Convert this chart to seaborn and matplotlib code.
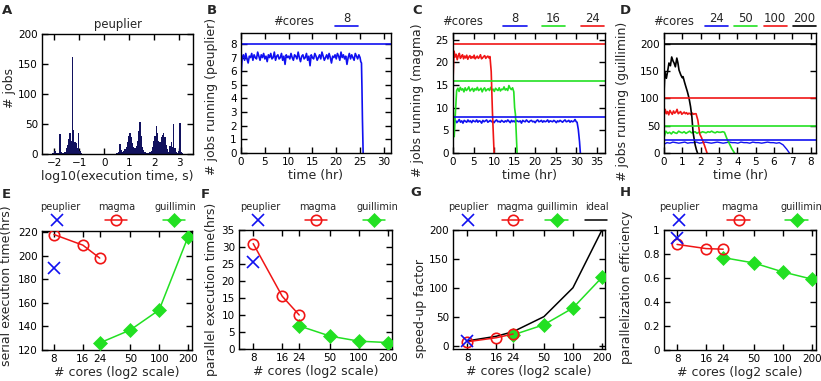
import numpy as np
import pandas as pd
import matplotlib
matplotlib.use("Agg")
import matplotlib.pyplot as plt
from matplotlib.lines import Line2D
import seaborn as sns

sns.set_style("ticks")
plt.rcParams['font.family'] = ['DejaVu Sans']

W, H = 821, 381
BLUE = "#1010f0"
RED = "#f01515"
GREEN = "#22e022"
BLACK = "#000000"
NAVY = "#12125e"
FS = 7.5      # tick labels
LFS_AX = 9.0  # axis labels
TFS = 8.4     # titles / top legends
LFS = 7.0     # bottom legends

# ---------------- data ----------------
# A: histogram of log10(execution time), bins of 0.05 from -2.5
hist_start, hist_width = -2.5, 0.05
hist_counts = [0, 0, 0, 0, 0, 0, 0, 0, 1, 2,
               5, 2, 1, 1, 34, 4, 1, 1, 4, 10,
               15, 25, 35, 22, 162, 40, 20, 18, 10, 35,
               5, 1, 0, 0, 0, 0, 0, 0, 0, 0,
               0, 0, 0, 0, 0, 0, 0, 0, 0, 0,
               0, 0, 0, 0, 0, 0, 0, 0, 0, 1,
               1, 3, 16, 6, 4, 5, 8, 12, 20, 30,
               35, 28, 18, 12, 10, 14, 22, 38, 53, 30,
               12, 6, 3, 2, 2, 2, 3, 5, 12, 22,
               30, 47, 35, 22, 20, 28, 32, 35, 28, 15,
               8, 4, 14, 20, 12, 50, 10, 3, 2, 5,
               51, 4, 1, 0, 0, 0, 0, 0, 0, 0]

# B: peuplier, 8 cores
B_run = [5.6, 7.0, 7.2, 6.8, 7.3, 6.9, 6.6, 7.1, 7.0, 7.3,
         6.8, 7.2, 7.0, 6.9, 7.4, 7.1, 6.8, 7.2, 7.0, 7.3,
         6.9, 7.1, 6.7, 7.2, 7.0, 7.3, 6.9, 7.0, 7.4, 6.8,
         7.1, 7.2, 6.9, 7.0, 7.3, 6.8, 7.1, 6.5, 7.2, 7.0,
         7.1, 6.9, 7.3, 7.0, 6.8, 7.2, 7.1, 6.9, 7.4, 7.0,
         6.7, 7.1, 7.2, 6.9, 7.0, 7.3, 6.8, 7.1, 6.4, 7.2,
         7.0, 6.9, 7.3, 7.1, 6.8, 7.0, 7.2, 6.9, 7.4, 7.1,
         6.8, 7.0, 7.2, 6.9, 7.3, 7.0, 6.6, 7.1, 7.0, 7.2,
         6.9, 7.3, 7.1, 6.8, 7.4, 7.0, 7.2, 6.9, 7.1, 6.5,
         7.0, 7.3, 6.9, 7.2, 7.0, 6.8, 7.3, 7.1, 6.9, 7.2,
         7.0]
B_run_end = 25.0
B_tail_t = [25.15, 25.3, 25.4, 25.5, 25.65]
B_tail_v = [6.7, 6.6, 4.8, 2.5, 0.0]
B_cores = [8]

# C: magma, 8/16/24 cores
C8_run = [5.0, 6.9, 7.2, 6.7, 7.0, 7.4, 6.8, 7.1, 6.6, 7.2,
          7.0, 6.8, 7.3, 6.9, 7.1, 6.7, 7.2, 7.0, 6.9, 7.3,
          6.8, 7.1, 7.0, 6.6, 7.2, 6.9, 7.1, 7.3, 6.8, 7.0,
          7.2, 6.9, 7.0, 6.7, 7.1, 7.3, 6.9, 7.0, 6.8, 7.2,
          7.0, 6.8, 7.1, 6.9, 7.3, 7.0, 6.7, 7.2, 6.9, 7.1,
          6.8, 7.2, 7.0, 6.9, 7.1, 6.6, 7.2, 7.0, 6.9, 7.3,
          7.0, 6.8, 7.1, 7.2, 6.9, 7.0, 6.7, 7.1, 7.3, 6.9,
          7.0, 7.2, 6.8, 7.1, 6.9, 7.0, 7.3, 6.8, 7.1, 7.0,
          6.9, 7.2, 7.0, 6.7, 7.1, 6.9, 7.2, 7.0, 6.8, 7.1,
          7.3, 6.9, 7.0, 7.2, 6.8, 7.1, 6.9, 7.0, 7.4, 6.9]
C8_run_end = 30.0
C8_tail_t = [30.2, 30.5, 30.8, 31.0]
C8_tail_v = [6.8, 5.2, 2.5, 0.0]

C16_run = [10.5, 3.6, 9.0, 13.8, 14.3, 13.6, 14.5, 13.9, 14.2, 13.5,
           14.4, 13.8, 14.1, 14.6, 13.7, 14.0, 14.3, 13.6, 14.2, 13.9,
           14.5, 13.8, 14.0, 14.3, 13.5, 14.1, 14.4, 13.7, 14.0, 14.2,
           13.8, 14.5, 13.9, 14.1, 13.6, 14.3, 14.0, 13.8, 14.4, 13.7,
           14.1, 14.0, 14.6, 13.9, 14.2, 13.8, 14.9, 14.3, 14.0, 14.4]
C16_run_end = 14.5
C16_tail_t = [14.8, 15.0, 15.2, 15.6]
C16_tail_v = [13.5, 10.0, 8.5, 0.0]

C24_run = [16.0, 22.5, 21.2, 21.8, 20.6, 21.5, 22.0, 20.9, 21.3, 21.7,
           20.8, 21.4, 21.0, 21.6, 20.7, 21.2, 21.5, 20.9, 21.3, 21.0,
           21.6, 20.8, 21.1, 21.4, 20.9, 21.2, 21.7, 20.8, 21.0, 21.3,
           21.5, 20.9, 21.2, 21.4, 21.0, 21.3]
C24_run_end = 9.0
C24_tail_t = [9.3, 9.6, 10.0]
C24_tail_v = [18.0, 9.0, 0.0]
C_cores = [8, 16, 24]

# D: guillimin, 24/50/100/200 cores
D200_t = [0, 0.05, 0.13, 0.2, 0.27, 0.35, 0.42, 0.5, 0.55, 0.62, 0.7, 0.76,
          0.82, 0.92, 1.0, 1.04, 1.12, 1.19, 1.28, 1.37, 1.45, 1.52, 1.59,
          1.65, 1.70, 1.77, 1.83]
D200_v = [110, 149, 137, 150, 165, 160, 176, 168, 165, 158, 174, 165,
          152, 143, 138, 140, 130, 122, 112, 100, 85, 67, 37,
          25, 15, 6, 0]
D100_run = [68, 80, 72, 76, 70, 78, 74, 71, 77, 73,
            75, 80, 72, 74, 76, 71, 73, 75, 72, 74,
            71, 73, 72, 70, 73, 71, 72, 72]
D100_run_end = 1.75
D100_tail_t = [1.85, 1.95, 2.05, 2.2, 2.35]
D100_tail_v = [60, 35, 28, 15, 0]
D50_run = [28, 40, 36, 38, 35, 39, 37, 36, 40, 38,
           37, 39, 36, 38, 40, 37, 38, 39, 36, 38,
           37, 39, 38, 37, 39, 38, 40, 38, 37, 39,
           38, 38, 39, 38]
D50_run_end = 3.3
D50_tail_t = [3.45, 3.6, 3.7, 3.85]
D50_tail_v = [25, 15, 8, 0]
D24_run = [16, 19, 18, 20, 19, 18, 19, 20, 18, 19,
           19, 20, 18, 19, 20, 19, 18, 19, 20, 19,
           18, 19, 20, 19, 19, 18, 20, 19, 19, 18,
           20, 19, 19, 18, 19, 20, 19, 19, 18, 19]
D24_run_end = 6.3
D24_tail_t = [6.5, 6.7, 6.85]
D24_tail_v = [15, 7, 0]
D_cores = [24, 50, 100, 200]

# E-H: scaling
cores_ticks = [8, 16, 24, 50, 100, 200]
peup_cores = [8]
magma_cores = [8, 16, 24]
guil_cores = [24, 50, 100, 200]

E_peup = [190]
E_magma = [218, 209, 198]
E_guil = [126, 137, 154, 216]

F_peup = [25.5]
F_magma = [31, 15.5, 10]
F_guil = [6.8, 3.8, 2.3, 1.9]

G_peup = [7.3]
G_magma = [6.5, 13.5, 20]
G_guil = [18.5, 36, 65, 118]
G_ideal = [8, 16, 24, 50, 100, 200]

H_peup = [0.93]
H_magma = [0.88, 0.845, 0.84]
H_guil = [0.77, 0.725, 0.65, 0.59]

# ---------------- figure ----------------
fig = plt.figure(figsize=(W / 100, H / 100), dpi=100)


def add_ax(l, r, t, b):
    return fig.add_axes([l / W, 1 - b / H, (r - l) / W, (b - t) / H])


def style(ax):
    for s in ax.spines.values():
        s.set_linewidth(1.0)
        s.set_color("black")
    ax.tick_params(direction="in", top=True, right=True, length=4, width=1.0,
                   labelsize=FS, pad=3, colors="black")
    ax.tick_params(which="minor", length=0)


def series(run, end, tail_t, tail_v):
    t = np.concatenate([np.linspace(0, end, len(run)), tail_t])
    v = np.concatenate([run, tail_v])
    return t, v


def line(ax, t, v, color, lw=1.2):
    sns.lineplot(x=t, y=v, ax=ax, color=color, lw=lw, sort=False, estimator=None)


def ftext(x, y, s, **kw):
    kw.setdefault("fontsize", TFS)
    kw.setdefault("ha", "center")
    kw.setdefault("va", "center")
    fig.text(x / W, 1 - y / H, s, **kw)


def fline(x1, x2, y, color, lw=1.2):
    fig.add_artist(Line2D([x1 / W, x2 / W], [1 - y / H] * 2, color=color, lw=lw,
                          transform=fig.transFigure))


def fmark(x, y, color, marker, ms, mfc, mew=1.2):
    fig.add_artist(Line2D([x / W], [1 - y / H], color=color, marker=marker, ms=ms,
                          mfc=mfc, mec=color, mew=mew, lw=0,
                          transform=fig.transFigure))


def labels(ax, xl, yl, ylx, yly, xpad=1.5):
    ax.set_xlabel(xl, fontsize=LFS_AX, labelpad=xpad)
    ax.set_ylabel(yl, fontsize=LFS_AX, va="center")
    ax.yaxis.set_label_coords(ylx, yly)


# ---- A ----
axA = add_ax(42, 193, 34, 154)
edges = hist_start + hist_width * np.arange(len(hist_counts) + 1)
centers = edges[:-1] + hist_width / 2
hist_df = pd.DataFrame({"logt": centers, "n": hist_counts})
sns.histplot(data=hist_df, x="logt", weights="n", bins=len(hist_counts),
             binrange=(float(edges[0]), float(edges[-1])), ax=axA, color=NAVY,
             alpha=1, linewidth=0, element="bars")
axA.set_xlim(-2.5, 3.55)
axA.set_ylim(0, 200)
axA.set_xticks([-2, -1, 0, 1, 2, 3])
axA.set_yticks([0, 50, 100, 150, 200])
labels(axA, "log10(execution time, s)", "# jobs", -0.215, 0.55)
axA.set_title("peuplier", fontsize=TFS, pad=4)
style(axA)

# ---- B ----
axB = add_ax(241, 391, 33, 153)
tB, vB = series(B_run, B_run_end, B_tail_t, B_tail_v)
line(axB, tB, vB, BLUE, 1.2)
for c in B_cores:
    axB.axhline(c, color=BLUE, lw=1.2)
axB.set_xlim(0, 31.5)
axB.set_ylim(0, 8.8)
axB.set_xticks([0, 5, 10, 15, 20, 25, 30])
axB.set_yticks(range(0, 9))
labels(axB, "time (hr)", "# jobs running (peuplier)", -0.195, 0.47)
style(axB)

# ---- C ----
axC = add_ax(453, 605, 33, 153)
for run, end, tt, tv, col in [(C8_run, C8_run_end, C8_tail_t, C8_tail_v, BLUE),
                              (C16_run, C16_run_end, C16_tail_t, C16_tail_v, GREEN),
                              (C24_run, C24_run_end, C24_tail_t, C24_tail_v, RED)]:
    t, v = series(run, end, tt, tv)
    line(axC, t, v, col, 1.2)
for c, col in zip(C_cores, [BLUE, GREEN, RED]):
    axC.axhline(c, color=col, lw=1.2)
axC.set_xlim(0, 37)
axC.set_ylim(0, 26.5)
axC.set_xticks([0, 5, 10, 15, 20, 25, 30, 35])
axC.set_yticks([0, 5, 10, 15, 20, 25])
labels(axC, "time (hr)", "# jobs running (magma)", -0.235, 0.44)
style(axC)

# ---- D ----
axD = add_ax(664, 816, 33, 153)
t, v = series(D24_run, D24_run_end, D24_tail_t, D24_tail_v)
line(axD, t, v, BLUE, 1.0)
t, v = series(D50_run, D50_run_end, D50_tail_t, D50_tail_v)
line(axD, t, v, GREEN, 1.2)
t, v = series(D100_run, D100_run_end, D100_tail_t, D100_tail_v)
line(axD, t, v, RED, 1.2)
line(axD, np.array(D200_t), np.array(D200_v), BLACK, 1.2)
for c, col in zip(D_cores, [BLUE, GREEN, RED, BLACK]):
    axD.axhline(c, color=col, lw=1.2)
axD.set_xlim(0, 8.3)
axD.set_ylim(0, 220)
axD.set_xticks(range(0, 9))
axD.set_yticks([0, 50, 100, 150, 200])
labels(axD, "time (hr)", "# jobs running (guillimin)", -0.27, 0.43)
style(axD)

# ---- E-H ----
MS_X, MS_O, MS_D = 8.5, 7.5, 7.0


def scaling(ax, peup, magma, guil, ideal=None):
    sns.lineplot(x=peup_cores, y=peup, ax=ax, color=BLUE, lw=0, marker="x",
                 ms=MS_X, mew=1.2, mec=BLUE, estimator=None, zorder=5)
    sns.lineplot(x=magma_cores, y=magma, ax=ax, color=RED, lw=1.1, marker="o",
                 ms=MS_O, mfc="none", mec=RED, mew=1.2, estimator=None, zorder=4)
    sns.lineplot(x=guil_cores, y=guil, ax=ax, color=GREEN, lw=1.1, marker="D",
                 ms=MS_D, mfc=GREEN, mec=GREEN, mew=0.5, estimator=None, zorder=3)
    if ideal is not None:
        sns.lineplot(x=cores_ticks, y=ideal, ax=ax, color=BLACK, lw=1.1,
                     estimator=None, zorder=2)
    ax.set_xscale("log", base=2)
    ax.set_xticks(cores_ticks)
    ax.set_xticklabels([str(c) for c in cores_ticks])
    ax.minorticks_off()
    style(ax)


axE = add_ax(42, 192, 231, 350)
scaling(axE, E_peup, E_magma, E_guil)
axE.set_xlim(6.0, 220)
axE.set_ylim(120, 221)
axE.set_yticks([120, 140, 160, 180, 200, 220])
labels(axE, "# cores (log2 scale)", "serial execution time(hrs)", -0.235, 0.54)

axF = add_ax(239, 392, 230, 349)
scaling(axF, F_peup, F_magma, F_guil)
axF.set_xlim(5.7, 220)
axF.set_ylim(0, 35)
axF.set_yticks([0, 5, 10, 15, 20, 25, 30, 35])
labels(axF, "# cores (log2 scale)", "parallel execution time(hrs)", -0.18, 0.5)

axG = add_ax(453, 605, 230, 349)
scaling(axG, G_peup, G_magma, G_guil, G_ideal)
axG.set_xlim(5.7, 215)
axG.set_ylim(-6, 200)
axG.set_yticks([0, 50, 100, 150, 200])
labels(axG, "# cores (log2 scale)", "speed-up factor", -0.215, 0.34)

axH = add_ax(664, 816, 230, 350)
scaling(axH, H_peup, H_magma, H_guil)
axH.set_xlim(5.86, 219)
axH.set_ylim(0, 1)
axH.set_yticks([0, 0.2, 0.4, 0.6, 0.8, 1])
axH.set_yticklabels(["0", "0.2", "0.4", "0.6", "0.8", "1"])
labels(axH, "# cores (log2 scale)", "parallelization efficiency", -0.245, 0.52)

for ax in [axA, axB, axC, axD, axE, axF, axG, axH]:
    leg = ax.get_legend()
    if leg is not None:
        leg.remove()

# ---- panel letters ----
for lab, x, y in [("A", 2, 11), ("B", 207, 11), ("C", 412, 11), ("D", 620, 10),
                  ("E", 2, 194), ("F", 201, 194), ("G", 410, 192), ("H", 620, 192)]:
    ftext(x, y, lab, fontsize=9.5, fontweight="bold", ha="left")

# ---- top-row legends ----
LY_T, LY_L = 19, 25.5
ftext(294, 21.5, "#cores")
ftext(347, LY_T, "8")
fline(335, 358, LY_L, BLUE)
ftext(463, 21.5, "#cores")
for lab, x1, x2, col in [("8", 503, 527, BLUE), ("16", 542, 565, GREEN), ("24", 581, 604, RED)]:
    ftext((x1 + x2) / 2, LY_T, lab)
    fline(x1, x2, LY_L, col)
ftext(674, 21.5, "#cores")
for lab, x1, x2, col in [("24", 705, 728, BLUE), ("50", 734, 757, GREEN),
                         ("100", 763.5, 786.5, RED), ("200", 793, 816, BLACK)]:
    ftext((x1 + x2) / 2, LY_T, lab)
    fline(x1, x2, LY_L, col)

# ---- bottom-row legends ----
BY_T, BY_M = 207, 219.5


def scaling_legend(px, mx1, mx2, gx1, gx2, ptx, mtx, gtx, ideal=None):
    ftext(ptx, BY_T, "peuplier", fontsize=LFS)
    fmark(px, BY_M, BLUE, "x", MS_X, BLUE)
    ftext(mtx, BY_T, "magma", fontsize=LFS)
    fline(mx1, mx2, BY_M, RED, lw=1.1)
    fmark((mx1 + mx2) / 2, BY_M, RED, "o", MS_O, "none")
    ftext(gtx, BY_T, "guillimin", fontsize=LFS)
    fline(gx1, gx2, BY_M, GREEN, lw=1.1)
    fmark((gx1 + gx2) / 2, BY_M, GREEN, "D", MS_D, GREEN, 0.5)
    if ideal is not None:
        tx, x1, x2 = ideal
        ftext(tx, BY_T, "ideal", fontsize=LFS)
        fline(x1, x2, BY_M, BLACK, lw=1.1)


scaling_legend(57, 105, 127, 163, 185, 60, 117, 175)
scaling_legend(258, 305, 327, 363, 385, 260, 318, 377)
scaling_legend(468, 502, 523, 545, 568, 468, 515, 557, ideal=(597, 585, 607))
scaling_legend(679, 727, 750, 785, 808, 679, 740, 801)

fig.savefig("out.png", dpi=100)
